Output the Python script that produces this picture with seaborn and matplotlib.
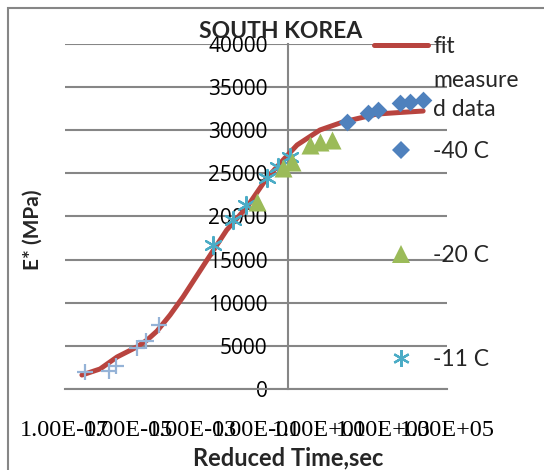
import matplotlib
matplotlib.use("Agg")
import matplotlib.pyplot as plt
import matplotlib.ticker as mticker
import seaborn as sns
from matplotlib.lines import Line2D
from matplotlib.patches import Rectangle

# ---------------- data ----------------
fit_time = [3.4e-7, 1.26e-6, 4.3e-6, 1.8e-5, 3.8e-5, 7.8e-5, 2.0e-4, 5.1e-4,
            2.9e-3, 1.2e-2, 5.2e-2, 0.22, 0.71, 1.95, 10.2, 54, 630, 3310, 17800]
fit_modulus = [1620, 2320, 3710, 4870, 5680, 6720, 8580, 10670,
               14960, 18430, 21100, 24460, 26550, 28290, 30030, 30960,
               31880, 32060, 32230]

plus_time = [4.3e-7, 2.4e-6, 4.0e-6, 1.8e-5, 3.5e-5, 8.9e-5]
plus_modulus = [1970, 2140, 2670, 4750, 5570, 7420]

m11_time = [4.5e-3, 1.9e-2, 4.9e-2, 0.22, 0.49, 1.17]
m11_modulus = [16700, 19590, 21330, 24460, 25740, 26900]

m20_time = [0.107, 0.71, 1.35, 5.0, 10.2, 24.5]
m20_modulus = [21680, 25620, 26320, 28290, 28640, 28870]

m40_time = [72, 331, 676, 3310, 6920, 17800]
m40_modulus = [30960, 32000, 32350, 33160, 33270, 33510]

x_ticks = [1e-7, 1e-5, 1e-3, 1e-1, 1e1, 1e3, 1e5]
x_tick_labels = ["1.00E-07", "1.00E-05", "1.00E-03", "1.00E-01",
                 "1.00E+01", "1.00E+03", "1.00E+05"]
y_ticks = [0, 5000, 10000, 15000, 20000, 25000, 30000, 35000, 40000]

legend_top = ["fit", "measure\nd data"]
legend_series = ["-40 C", "-20 C", "-11 C"]

# ---------------- style ----------------
sns.set_style("white")
plt.rcParams["font.family"] = ["Lato", "DejaVu Sans"]

GRID = "#868686"
RED = "#B8443F"
BLUE = "#4F81BD"
GREEN = "#9BBB59"
TEAL = "#4BACC6"
LIGHT = "#95B3D7"

W, H = 544, 470
fig = plt.figure(figsize=(W / 100, H / 100), dpi=100)
fig.patch.set_facecolor("white")
ax = fig.add_axes([65 / W, 81 / H, 382 / W, 345 / H])

# fitted master curve
sns.lineplot(x=fit_time, y=fit_modulus, color=RED, linewidth=3.6, ax=ax,
             zorder=2, errorbar=None)

# measured data
sns.scatterplot(x=plus_time, y=plus_modulus, marker="+", s=121, color=LIGHT,
                linewidth=1.6, ax=ax, zorder=3)
sns.scatterplot(x=m11_time, y=m11_modulus, marker=(6, 2, 0), s=150, color=TEAL,
                linewidth=1.6, ax=ax, zorder=3)
sns.scatterplot(x=m20_time, y=m20_modulus, marker="^", s=169, color=GREEN,
                linewidth=0, ax=ax, zorder=3)
sns.scatterplot(x=m40_time, y=m40_modulus, marker="D", s=81, color=BLUE,
                linewidth=0, ax=ax, zorder=4)

# axes
ax.set_xscale("log")
ax.set_xlim(1e-7, 1e5)
ax.set_ylim(0, 40000)
for s in ["top", "right"]:
    ax.spines[s].set_visible(False)
ax.spines["left"].set_position(("data", 1.0))
for s in ["left", "bottom"]:
    ax.spines[s].set_color(GRID)
    ax.spines[s].set_linewidth(1.5)
    ax.spines[s].set_zorder(1)

ax.set_xticks(x_ticks)
ax.set_xticklabels(x_tick_labels)
ax.xaxis.set_minor_locator(mticker.NullLocator())
ax.set_yticks(y_ticks)
ax.set_yticklabels([str(v) for v in y_ticks])
ax.tick_params(axis="x", direction="out", length=5, width=1.5, color=GRID,
               pad=17, labelcolor="black", labelsize=17.5,
               labelfontfamily="Liberation Serif")
ax.tick_params(axis="y", length=0, pad=14.5, labelcolor="black",
               labelsize=15, labelfontfamily="Open Sans")
ax.yaxis.grid(True, color=GRID, linewidth=1.5)
ax.xaxis.grid(False)
ax.set_axisbelow(True)
ax.set_facecolor("white")

ax.set_xlabel("Reduced Time,sec", fontsize=17, fontweight="bold")
ax.xaxis.set_label_coords((288 - 65) / 382, (389 - 446) / 345)
ax.set_ylabel("E* (MPa)", fontsize=15, fontweight="bold")
ax.yaxis.set_label_coords((43 - 65) / 382, (389 - 230) / 345)

fig.text(281 / W, 1 - 31 / H, "SOUTH KOREA", ha="center", va="center",
         fontsize=16.5, fontweight="bold")

# legend
h_fit = Line2D([], [], color=RED, linewidth=3.6)
h_blank = Line2D([], [], linestyle="none")
leg1 = ax.legend([h_fit, h_blank], legend_top, loc="upper left",
                 bbox_to_anchor=(374 / W, 1 - 36 / H),
                 bbox_transform=fig.transFigure, frameon=False,
                 fontsize=16.5, handlelength=2.36, handletextpad=0.22,
                 borderpad=0, borderaxespad=0, labelspacing=0.58)
leg1.get_texts()[1].set_linespacing(1.47)
ax.add_artist(leg1)

h40 = Line2D([], [], linestyle="none", marker="D", markersize=9,
             markerfacecolor=BLUE, markeredgewidth=0)
h20 = Line2D([], [], linestyle="none", marker="^", markersize=13,
             markerfacecolor=GREEN, markeredgewidth=0)
h11 = Line2D([], [], linestyle="none", marker=(6, 2, 0), markersize=12,
             color=TEAL, markeredgewidth=1.6)
leg2 = ax.legend([h40, h20, h11], legend_series, loc="upper left",
                 bbox_to_anchor=(374 / W, 1 - 141 / H),
                 bbox_transform=fig.transFigure, frameon=False,
                 fontsize=16.5, handlelength=2.36, handletextpad=0.22,
                 borderpad=0, borderaxespad=0, labelspacing=3.62)

# chart area border (extends past the right and bottom edges)
fig.add_artist(Rectangle((8 / W, -0.2), 2.0, 1.2 - 8 / H,
                         transform=fig.transFigure, fill=False,
                         edgecolor=GRID, linewidth=1.5))

fig.savefig("out.png", dpi=100, facecolor="white")
